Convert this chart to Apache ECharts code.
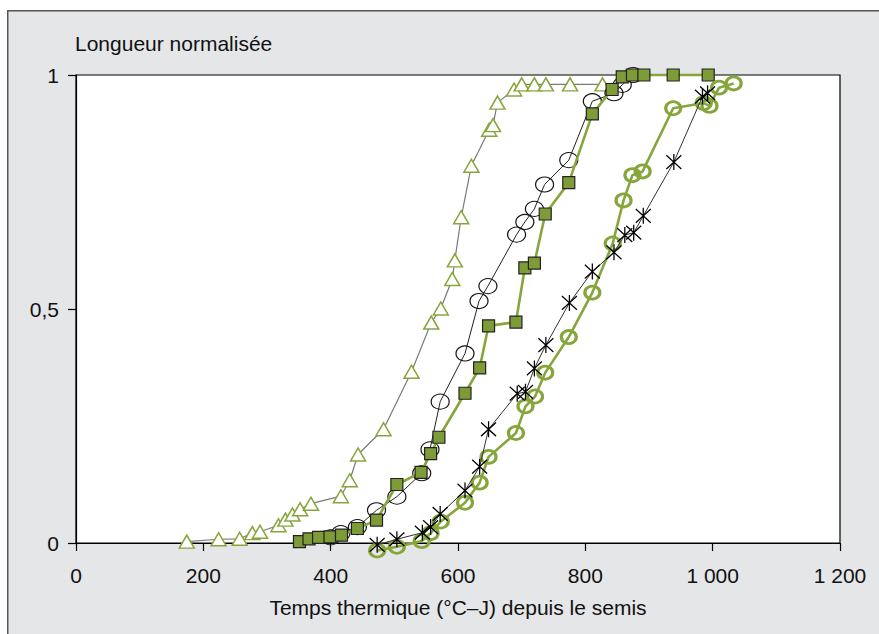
<!DOCTYPE html>
<html>
<head>
<meta charset="utf-8">
<script src="https://cdn.jsdelivr.net/npm/echarts@6/dist/echarts.min.js"></script>
<style>
html,body{margin:0;padding:0;background:#fff;}
#chart{width:879px;height:634px;}
</style>
</head>
<body>
<div id="chart"></div>
<script>
// ---- data ----
var xTicks = [0, 200, 400, 600, 800, 1000, 1200];
var yTicks = [0, 0.5, 1];
var xTickLabels = ['0', '200', '400', '600', '800', '1 000', '1 200'];
var yTickLabels = ['0', '0,5', '1'];
var yAxisTitle = 'Longueur normalisée';
var xAxisTitle = 'Temps thermique (°C–J) depuis le semis';

var triX = [174, 224, 257, 277, 289, 318, 329, 340, 352, 369, 416, 430, 443, 483, 527, 558, 573, 591, 595, 605, 621, 649, 655, 662, 688, 700, 720, 738, 776, 827];
var triY = [0.003, 0.008, 0.009, 0.021, 0.024, 0.038, 0.050, 0.061, 0.072, 0.084, 0.100, 0.134, 0.189, 0.243, 0.366, 0.471, 0.501, 0.564, 0.604, 0.696, 0.806, 0.883, 0.893, 0.941, 0.969, 0.98, 0.98, 0.98, 0.98, 0.98];

var sqX = [351, 366, 381, 399, 417, 442, 472, 504, 542, 557, 570, 611, 634, 648, 691, 705, 720, 737, 774, 811, 842, 858, 874, 892, 938, 993];
var sqY = [0.003, 0.009, 0.012, 0.013, 0.017, 0.031, 0.049, 0.125, 0.151, 0.191, 0.226, 0.320, 0.374, 0.464, 0.472, 0.588, 0.598, 0.703, 0.770, 0.917, 0.969, 0.996, 1.0, 1.0, 1.0, 1.0];

var ocX = [400, 416, 442, 472, 504, 543, 556, 572, 611, 633, 647, 692, 705, 720, 736, 774, 811, 845, 858, 875];
var ocY = [0.012, 0.021, 0.034, 0.070, 0.099, 0.149, 0.200, 0.302, 0.405, 0.517, 0.549, 0.659, 0.686, 0.714, 0.766, 0.818, 0.944, 0.961, 0.979, 1.0];

var stX = [473, 504, 544, 557, 572, 611, 634, 648, 693, 706, 720, 738, 775, 811, 845, 862, 876, 891, 939, 984, 992];
var stY = [-0.004, 0.008, 0.022, 0.034, 0.062, 0.112, 0.163, 0.243, 0.319, 0.323, 0.373, 0.423, 0.513, 0.580, 0.621, 0.658, 0.663, 0.699, 0.814, 0.954, 0.961];

var grX = [473, 504, 543, 557, 573, 611, 634, 648, 691, 706, 721, 737, 774, 811, 843, 860, 874, 890, 938, 986, 995, 1010, 1033];
var grY = [-0.016, -0.008, 0.004, 0.021, 0.046, 0.086, 0.129, 0.184, 0.235, 0.292, 0.313, 0.364, 0.440, 0.535, 0.640, 0.732, 0.786, 0.794, 0.929, 0.940, 0.934, 0.973, 0.982];

function pairs(xs, ys) { return xs.map(function (x, i) { return [x, ys[i]]; }); }

var GREEN = '#86a63c';
var SQFILL = '#7d9c38';
var FONT = '"Liberation Sans", Arial, sans-serif';

var chart = echarts.init(document.getElementById('chart'), null, { renderer: 'svg' });
chart.setOption({
  animation: false,
  backgroundColor: '#fff',
  graphic: [
    { type: 'rect', z: -10, left: 7, top: 10, shape: { x: 0, y: 0, width: 900, height: 700 },
      style: { fill: '#e5e6e8', stroke: '#555', lineWidth: 1.5 } },
    { type: 'text', left: 75, top: 33, z: 10,
      style: { text: yAxisTitle, fill: '#111', font: '21px ' + FONT } }
  ],
  grid: { left: 76, top: 75, right: 39, bottom: 91, show: true, backgroundColor: '#fff', borderColor: '#000', borderWidth: 1.2 },
  xAxis: {
    type: 'value', min: xTicks[0], max: xTicks[xTicks.length - 1], interval: 200,
    name: xAxisTitle, nameLocation: 'middle', nameGap: 54,
    nameTextStyle: { color: '#111', fontSize: 21, fontFamily: FONT },
    axisLine: { lineStyle: { color: '#000', width: 1.2 } },
    axisTick: { length: 8, lineStyle: { color: '#000', width: 1.2 } },
    axisLabel: { margin: 22, color: '#111', fontSize: 21, fontFamily: FONT,
      formatter: function (v) { var i = xTicks.indexOf(v); return i >= 0 ? xTickLabels[i] : ''; } },
    splitLine: { show: false }
  },
  yAxis: {
    type: 'value', min: 0, max: 1, interval: 0.5,
    axisLine: { show: true, lineStyle: { color: '#000', width: 1.2 } },
    axisTick: { show: true, length: 8, lineStyle: { color: '#000', width: 1.2 } },
    axisLabel: { margin: 17, color: '#111', fontSize: 21, fontFamily: FONT,
      formatter: function (v) { var i = yTicks.indexOf(v); return i >= 0 ? yTickLabels[i] : ''; } },
    splitLine: { show: false }
  },
  series: [
    { type: 'line', data: pairs(triX, triY), clip: false, symbol: 'triangle', symbolSize: [15, 13],
      lineStyle: { color: '#7a7a7a', width: 1.2 },
      itemStyle: { color: '#fff', borderColor: GREEN, borderWidth: 1.5 }, z: 2 },
    { type: 'line', data: pairs(ocX, ocY), clip: false, symbol: 'circle', symbolSize: [18, 15],
      lineStyle: { color: '#222', width: 1 },
      itemStyle: { color: 'rgba(255,255,255,0)', borderColor: '#111', borderWidth: 1.1 }, z: 3 },
    { type: 'line', data: pairs(sqX, sqY), clip: false, symbol: 'rect', symbolSize: 12,
      lineStyle: { color: GREEN, width: 2.6 },
      itemStyle: { color: SQFILL, borderColor: '#222', borderWidth: 1.2 }, z: 4 },
    { type: 'line', data: pairs(stX, stY), clip: false,
      symbol: 'path://M0,1 L12,13 M12,1 L0,13 M6,0 L6,14', symbolSize: [15, 16],
      lineStyle: { color: '#333', width: 1 },
      itemStyle: { color: 'rgba(0,0,0,0)', borderColor: '#000', borderWidth: 1.3 }, z: 5 },
    { type: 'line', data: pairs(grX, grY), clip: false, symbol: 'circle', symbolSize: [15, 13],
      lineStyle: { color: GREEN, width: 2.6 },
      itemStyle: { color: 'rgba(255,255,255,0)', borderColor: GREEN, borderWidth: 3 }, z: 4 }
  ]
});
</script>
</body>
</html>
